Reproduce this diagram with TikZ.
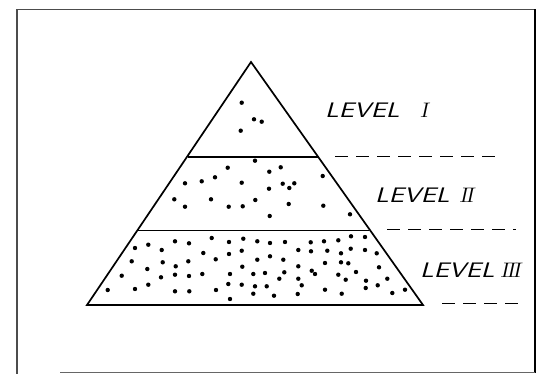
\documentclass[tikz,border=0pt]{standalone}
\usepackage{fontspec}
\usepackage{graphicx}
\begin{document}
\begin{tikzpicture}[x=1pt,y=-1pt,
  outline/.style={line width=1.7pt,line join=miter},
  divider/.style={line width=1.6pt},
  dashline/.style={line width=1.5pt,dash pattern=on 13pt off 8pt},
  dot/.style={fill=black,draw=none},
  lvl/.style={anchor=base west,inner sep=0pt,font=\fontsize{21}{21}\selectfont\sffamily\slshape}]
\newcommand\rnum[1]{{\rmfamily\slshape #1}}
\newcommand\widetext[1]{\scalebox{1.28}[1]{#1}}
\useasboundingbox (0,0) rectangle (545,374);
% frame
\draw[line width=1.1pt,black!70] (17,374) -- (17,9.5) -- (535,9.5);
\draw[line width=2.2pt] (535,9.5) -- (535,373);
\draw[line width=1pt,black!60] (60,372.5) -- (535,372.5);
% pyramid
\coordinate (apex) at (251,62);
\coordinate (bl) at (87,305);
\coordinate (br) at (423,305);
\coordinate (d1l) at (187.5,157);
\coordinate (d1r) at (318.3,157);
\coordinate (d2l) at (136.5,230.5);
\coordinate (d2r) at (368.5,230.5);
\draw[outline] (apex) -- (bl) -- (br) -- cycle;
\draw[line width=2.4pt] (bl) -- (br);
\draw[divider] (d1l) -- (d1r);
\draw[divider] (d2l) -- (d2r);
% dashed level lines
\coordinate (e1a) at (335,156.5); \coordinate (e1b) at (495,156.5);
\coordinate (e2a) at (387,229.5); \coordinate (e2b) at (516,229.5);
\coordinate (e3a) at (442,303.5); \coordinate (e3b) at (518,303.5);
\draw[dashline] (e1a) -- (e1b);
\draw[dashline] (e2a) -- (e2b);
\draw[dashline] (e3a) -- (e3b);
% labels
\node[lvl] (l1) at (325,117.5) {\widetext{LEVEL\hspace{0.75em}\rnum{I}}};
\node[lvl] (l2) at (375,202) {\widetext{LEVEL\hspace{0.35em}\rnum{I\kern-0.1em I}}};
\node[lvl] (l3) at (420,277) {\widetext{LEVEL\hspace{0.2em}\rnum{I\kern-0.1em I\kern-0.1em I}}};
% dots
\foreach \p in {(241.7,102.7),(254,119.3),(261.7,121.7),(240.7,130.7),
 (255,160.7),(227.7,167.7),(280.7,167.3),(269.3,171.7),(322.7,176),(215,177.3),
 (201.7,181.3),(185,183.3),(241.7,182.7),(282.7,183.7),(294.3,183.3),(289.3,188),
 (269,188.7),(174.3,199.3),(211,199.3),(255.3,200),(185,206.7),(228.7,206.7),
 (242.7,206.3),(288.7,204),(323.3,205.7),(269.7,216),(350,214.3),
 (211.7,238),(229,242),(243.3,238.7),(175,241.3),(189,243.3),(148.3,244.7),
 (135,248),(161.7,250),(203.3,253),(229,254),(241.7,250.7),(131.7,261.3),
 (162.7,262.3),(188.3,261.3),(215.7,259.3),(175.7,266.3),(147.3,269),(242.3,266.7),
 (121.7,275.7),(161,277.3),(175,274.7),(189,276),(202.3,274),(230,274),
 (148.3,284.7),(228.3,284),(241.7,284.7),(107.7,290),(135,289),(175,291.3),
 (189.3,291.3),(216,290),(230,299),
 (257.3,241.3),(270,243),(285,242),(310.7,242.3),(324,241.3),(338.3,240.3),
 (351,236.3),(365,237),(298.3,250),(311,251.3),(327.3,250.7),(341,253.3),
 (350.7,248.7),(365,250),(376.7,253.3),(257.3,259.7),(270,256.3),(283.3,259.7),
 (298.3,266.3),(325,263),(341,262.3),(348.3,263.3),(379,267.3),(253.3,274),
 (265,273),(284.3,272.3),(279.3,278.7),(311.7,270.7),(315,274),(298.3,278.7),
 (338.3,274.7),(345.7,279.7),(356,272),(366,280.7),(387.3,278.7),(255,286.3),
 (266.7,286.3),(301.7,285.3),(377.7,285.3),(365.7,288),(253.3,293.7),(274,295.7),
 (297.7,294),(325,289.7),(341.7,293.7),(392.3,293),(405,289.7)}
  \fill[dot] \p circle (2.2);
\end{tikzpicture}
\end{document}
